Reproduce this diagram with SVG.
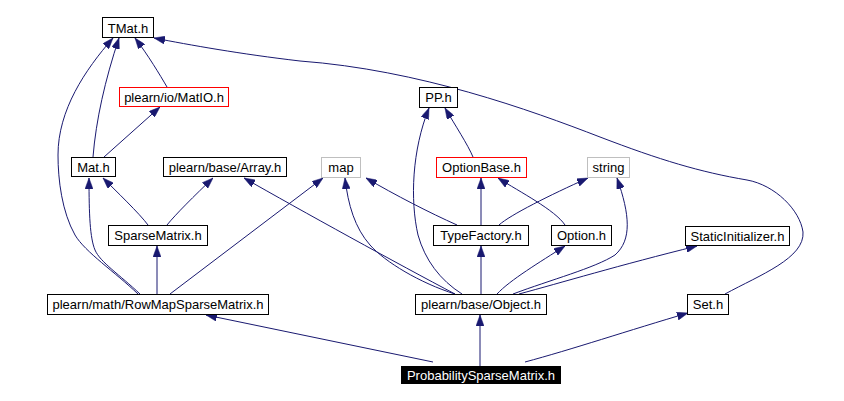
<svg xmlns="http://www.w3.org/2000/svg" width="844" height="401" viewBox="0 0 844 401">
<style>
.n rect{fill:#fff;stroke:#000;stroke-width:1}
.n.red rect{stroke:#ff0000}
.n.gray rect{stroke:#bfbfbf}
.n.sel rect{fill:#000;stroke:#000}
.n text{font-family:"Liberation Sans",Arial,sans-serif;font-size:13px;text-anchor:middle;fill:#000}
.n.sel text{fill:#fff}
#edges path{fill:none;stroke:#191970;stroke-width:1;marker-end:url(#ah)}
</style>
<defs>
<marker id="ah" viewBox="0 0 11 8" refX="11" refY="4" markerWidth="11" markerHeight="8" markerUnits="userSpaceOnUse" orient="auto">
<path d="M0,0 L11,4 L0,8 z" fill="#191970" stroke="#191970" stroke-width="0.5"/>
</marker>
</defs>
<rect width="844" height="401" fill="#fff"/>
<g id="edges">
<path d="M433,362 L206,315"/>
<path d="M480,366 L480,315"/>
<path d="M525,362 C570,350 630,330 688,313"/>
<path d="M725,294 C760,275 805,258 803,232 C800,210 775,185 747,180 C700,172 660,160 600,137 C530,110 420,70 300,61 C240,54 190,45 154,38"/>
<path d="M157,294 L157,246"/>
<path d="M170,294 L323,178"/>
<path d="M140,294 C120,275 100,262 95,250 C90,238 89,215 89,178"/>
<path d="M138,294 C115,272 85,252 75,235 C62,212 58,180 58,155 C58,110 85,70 113,38"/>
<path d="M148,225 C140,214 115,190 103,178"/>
<path d="M167,225 C175,215 195,195 213,178"/>
<path d="M93,157 C96,120 105,80 119,38"/>
<path d="M104,157 L160,107"/>
<path d="M167,87 C160,75 148,55 135,38"/>
<path d="M455,294 C400,265 300,210 244,178"/>
<path d="M455,294 C420,283 385,262 370,245 C355,228 348,205 345,178"/>
<path d="M462,294 C440,280 425,260 418,235 C410,200 412,150 429,108"/>
<path d="M481,294 L481,246"/>
<path d="M497,294 C510,280 540,262 565,246"/>
<path d="M513,294 C550,280 595,268 615,255 C632,240 630,215 617,178"/>
<path d="M519,294 C560,283 620,265 697,246"/>
<path d="M457,225 C430,213 395,195 366,178"/>
<path d="M481,225 L481,178"/>
<path d="M499,225 C510,215 550,195 588,178"/>
<path d="M565,225 C555,210 520,192 498,178"/>
<path d="M473,157 C468,145 455,125 445,108"/>
</g>
<g id="n_tmat" class="n"><rect x="102.5" y="17.5" width="51" height="20"/><text x="128" y="33">TMat.h</text></g>
<g id="n_matio" class="n red"><rect x="119.5" y="87.5" width="109" height="19"/><text x="174" y="102">plearn/io/MatIO.h</text></g>
<g id="n_mat" class="n"><rect x="71.5" y="157.5" width="44" height="19"/><text x="93.5" y="172">Mat.h</text></g>
<g id="n_array" class="n"><rect x="163.5" y="157.5" width="123" height="19"/><text x="225" y="172">plearn/base/Array.h</text></g>
<g id="n_map" class="n gray"><rect x="321.5" y="157.5" width="39" height="20"/><text x="341" y="172">map</text></g>
<g id="n_pp" class="n"><rect x="419.5" y="87.5" width="38" height="20"/><text x="438.5" y="102">PP.h</text></g>
<g id="n_optionbase" class="n red"><rect x="436.5" y="157.5" width="90" height="20"/><text x="481.5" y="172">OptionBase.h</text></g>
<g id="n_string" class="n gray"><rect x="587.5" y="157.5" width="42" height="20"/><text x="608.5" y="172">string</text></g>
<g id="n_sparse" class="n"><rect x="108.5" y="225.5" width="99" height="20"/><text x="158" y="240">SparseMatrix.h</text></g>
<g id="n_typefactory" class="n"><rect x="433.5" y="225.5" width="95" height="20"/><text x="481" y="240">TypeFactory.h</text></g>
<g id="n_option" class="n"><rect x="551.5" y="225.5" width="60" height="20"/><text x="581.5" y="240">Option.h</text></g>
<g id="n_static" class="n"><rect x="685.5" y="226.5" width="104" height="19"/><text x="737.5" y="241">StaticInitializer.h</text></g>
<g id="n_rowmap" class="n"><rect x="47.5" y="294.5" width="221" height="20"/><text x="158" y="309">plearn/math/RowMapSparseMatrix.h</text></g>
<g id="n_object" class="n"><rect x="415.5" y="294.5" width="131" height="20"/><text x="481" y="309">plearn/base/Object.h</text></g>
<g id="n_set" class="n"><rect x="687.5" y="294.5" width="41" height="20"/><text x="708" y="309">Set.h</text></g>
<g id="n_psm" class="n sel"><rect x="401.5" y="366.5" width="159" height="17"/><text x="481" y="380">ProbabilitySparseMatrix.h</text></g>
</svg>
